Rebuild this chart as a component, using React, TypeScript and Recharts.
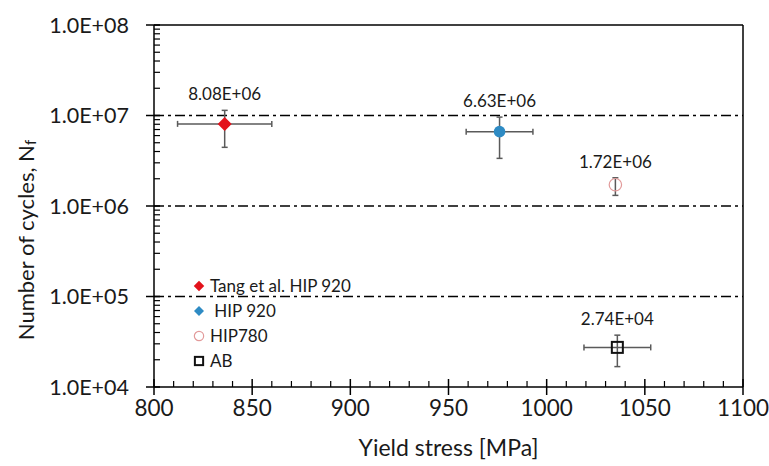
import {
  ErrorBar,
  ReferenceLine,
  Scatter,
  ScatterChart,
  XAxis,
  YAxis,
} from "recharts";

// data
const seriesNames = ["Tang et al. HIP 920", "HIP 920", "HIP780", "AB"];
const yieldStress = [836, 976, 1035, 1036];
const stressErr = [24, 17, 0, 17];
const cycles = [8.08e6, 6.63e6, 1.72e6, 2.74e4];
const cyclesLow = [4.45e6, 3.36e6, 1.31e6, 1.68e4];
const cyclesHigh = [1.14e7, 9.6e6, 2.05e6, 3.74e4];

const xTicks = [800, 850, 900, 950, 1000, 1050, 1100];
const xMinorTicks = [
  800, 810, 820, 830, 840, 850, 860, 870, 880, 890, 900, 910, 920, 930, 940,
  950, 960, 970, 980, 990, 1000, 1010, 1020, 1030, 1040, 1050, 1060, 1070,
  1080, 1090, 1100,
];
const yTicks = [1e4, 1e5, 1e6, 1e7, 1e8];
const yMinorTicks = [
  1e4, 2e4, 3e4, 4e4, 5e4, 6e4, 7e4, 8e4, 9e4,
  1e5, 2e5, 3e5, 4e5, 5e5, 6e5, 7e5, 8e5, 9e5,
  1e6, 2e6, 3e6, 4e6, 5e6, 6e6, 7e6, 8e6, 9e6,
  1e7, 2e7, 3e7, 4e7, 5e7, 6e7, 7e7, 8e7, 9e7, 1e8,
];
const gridLevels = [1e5, 1e6, 1e7];

const FONT = "Lato, 'Open Sans', sans-serif";
const TEXT = "#1a1a1a";
const ERR = "#5a5a5a";

const X_TICK = 8;
const X_GAP = 5;
const Y_TICK = 8;
const Y_GAP = 17;
const INNER = 6;

const sciLabel = (v: number) => {
  const [m, e] = v.toExponential(2).split("e");
  const exp = Number(e);
  return `${m}E${exp < 0 ? "-" : "+"}${String(Math.abs(exp)).padStart(2, "0")}`;
};

const tickLabel = (v: number) => {
  const e = Math.round(Math.log10(v));
  return `1.0E+${String(e).padStart(2, "0")}`;
};

const points = seriesNames.map((name, i) => ({
  name,
  x: yieldStress[i],
  y: cycles[i],
  xErr: stressErr[i],
  yErr: [cycles[i] - cyclesLow[i], cyclesHigh[i] - cycles[i]],
}));

const labelPoints = seriesNames.map((_, i) => ({
  x: yieldStress[i],
  y: cyclesHigh[i],
  label: sciLabel(cycles[i]),
}));

const XTick = ({ x, y, payload }: any) => {
  const v = payload.value;
  const axisY = y - X_TICK - X_GAP;
  const major = xTicks.includes(v);
  return (
    <g>
      <line
        x1={x}
        x2={x}
        y1={axisY - (major ? INNER + 2 : INNER)}
        y2={major ? axisY + X_TICK : axisY}
        stroke="#000"
        strokeWidth={major ? 1.5 : 1.2}
      />
      {major && (
        <text
          x={x}
          y={y}
          dy="0.71em"
          textAnchor="middle"
          fontFamily={FONT}
          fontSize={22.5}
          fill={TEXT}
        >
          {v}
        </text>
      )}
    </g>
  );
};

const YTick = ({ x, y, payload }: any) => {
  const v = payload.value;
  const axisX = x + Y_TICK + Y_GAP;
  const major = yTicks.includes(v);
  return (
    <g>
      <line
        x1={major ? axisX - Y_TICK : axisX}
        x2={axisX + INNER}
        y1={y}
        y2={y}
        stroke="#000"
        strokeWidth={major ? 1.5 : 1.2}
      />
      {major && (
        <text
          x={x}
          y={y}
          dy="0.355em"
          textAnchor="end"
          fontFamily={FONT}
          fontSize={21.5}
          fill={TEXT}
        >
          {tickLabel(v)}
        </text>
      )}
    </g>
  );
};

const Marker = ({ kind, cx, cy, legend }: any) => {
  const s = legend ? 0.75 : 1;
  if (kind === 0)
    return (
      <polygon
        points={`${cx},${cy - 7 * s} ${cx + 7 * s},${cy} ${cx},${cy + 7 * s} ${cx - 7 * s},${cy}`}
        fill="#e3121b"
      />
    );
  if (kind === 1)
    return legend ? (
      <polygon
        points={`${cx},${cy - 5} ${cx + 5},${cy} ${cx},${cy + 5} ${cx - 5},${cy}`}
        fill="#2e8bc4"
      />
    ) : (
      <circle cx={cx} cy={cy} r={5.8} fill="#2e8bc4" />
    );
  if (kind === 2)
    return (
      <circle cx={cx} cy={cy} r={6.2 * s} fill="none" stroke="#e29a9a" strokeWidth={1.2} />
    );
  return (
    <rect
      x={cx - 5.5 * s}
      y={cy - 5.5 * s}
      width={11 * s}
      height={11 * s}
      fill="none"
      stroke="#111"
      strokeWidth={2}
    />
  );
};

const YTitle = ({ viewBox }: any) => {
  const x = viewBox.x + 25;
  const y = viewBox.y + viewBox.height / 2 + 34;
  return (
    <text
      x={x}
      y={y}
      transform={`rotate(-90 ${x} ${y})`}
      textAnchor="middle"
      dominantBaseline="central"
      fontFamily={FONT}
      fontSize={22}
      fill={TEXT}
    >
      Number of cycles, N
      <tspan fontSize={15} dy={5}>
        f
      </tspan>
    </text>
  );
};

export default function App() {
  return (
    <div style={{ position: "absolute", left: 0, top: 0, width: 769, height: 466, background: "#fff" }}>
      <ScatterChart
        width={769}
        height={466}
        margin={{ top: 25, right: 26, bottom: 0, left: 0 }}
      >
        <XAxis
          type="number"
          dataKey="x"
          domain={[800, 1100]}
          ticks={xMinorTicks}
          interval={0}
          allowDataOverflow
          height={79}
          tickSize={X_TICK}
          tickMargin={X_GAP}
          axisLine={{ stroke: "#000", strokeWidth: 1.5 }}
          tickLine={false}
          tick={<XTick />}
          label={{
            value: "Yield stress [MPa]",
            position: "insideBottom",
            offset: 10,
            fontFamily: FONT,
            fontSize: 23,
            fill: TEXT,
          }}
        />
        <YAxis
          type="number"
          dataKey="y"
          scale="log"
          domain={[1e4, 1e8]}
          ticks={yMinorTicks}
          interval={0}
          allowDataOverflow
          width={154}
          tickSize={Y_TICK}
          tickMargin={Y_GAP}
          axisLine={{ stroke: "#000", strokeWidth: 1.5 }}
          tickLine={false}
          tick={<YTick />}
          label={{ content: <YTitle /> }}
        />
        {gridLevels.map((v) => (
          <ReferenceLine
            key={v}
            y={v}
            stroke="#000"
            strokeWidth={1.3}
            strokeDasharray="10 4 3 4"
          />
        ))}
        <ReferenceLine y={1e8} stroke="#000" strokeWidth={1.5} />
        <ReferenceLine x={1100} stroke="#000" strokeWidth={1.5} />
        {points.map((p, i) => (
          <Scatter
            key={p.name}
            name={p.name}
            data={[p]}
            isAnimationActive={false}
            shape={(props: any) => <Marker kind={i} cx={props.cx} cy={props.cy} />}
          >
            {p.xErr > 0 && (
              <ErrorBar
                dataKey="xErr"
                direction="x"
                width={3}
                stroke={ERR}
                strokeWidth={1.5}
              />
            )}
            <ErrorBar
              dataKey="yErr"
              direction="y"
              width={3}
              stroke={ERR}
              strokeWidth={1.5}
            />
          </Scatter>
        ))}
        <Scatter
          name="labels"
          data={labelPoints}
          isAnimationActive={false}
          legendType="none"
          shape={(props: any) => (
            <text
              x={props.cx}
              y={props.cy - 10}
              textAnchor="middle"
              fontFamily={FONT}
              fontSize={17}
              fill={TEXT}
            >
              {props.payload.label}
            </text>
          )}
        />
      </ScatterChart>
      <div
        style={{
          position: "absolute",
          left: 190,
          top: 273,
          fontFamily: FONT,
          fontSize: 17,
          color: TEXT,
          lineHeight: "25px",
        }}
      >
        {seriesNames.map((name, i) => (
          <div key={name} style={{ display: "flex", alignItems: "center", height: 25 }}>
            <svg width={18} height={18} style={{ marginRight: 2 }}>
              <Marker kind={i} cx={9} cy={9} legend />
            </svg>
            <span style={{ whiteSpace: "pre" }}>{i === 1 ? " " + name : name}</span>
          </div>
        ))}
      </div>
    </div>
  );
}
